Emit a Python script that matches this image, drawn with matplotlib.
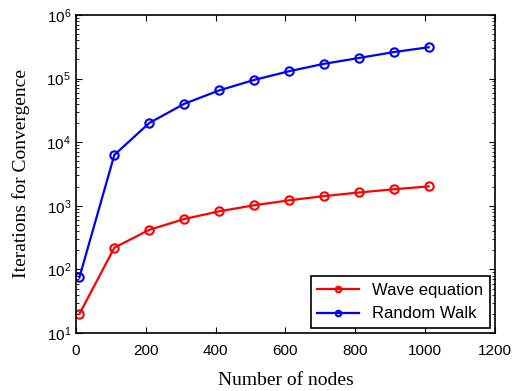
import numpy as np
import matplotlib
matplotlib.use('Agg')
import matplotlib.pyplot as plt

nodes = [10, 110, 210, 310, 410, 510, 610, 710, 810, 910, 1010]
wave = [20, 220, 420, 620, 820, 1020, 1220, 1420, 1620, 1820, 2020]
walk = [75, 6300, 20000, 40000, 65000, 95000, 130000, 170000, 210000, 260000, 310000]

plt.rcParams['font.family'] = ['Liberation Sans', 'DejaVu Sans']
fig = plt.figure(figsize=(5.2, 3.91), dpi=100)
ax = fig.add_axes([0.146, 0.148, 0.806, 0.814])

ax.plot(nodes, wave, color='red', marker='o', mfc='none', mec='red',
        ms=6, mew=1.5, lw=1.6, label='Wave equation')
ax.plot(nodes, walk, color='blue', marker='o', mfc='none', mec='blue',
        ms=6, mew=1.5, lw=1.6, label='Random Walk')

ax.set_yscale('log')
ax.set_xlim(0, 1200)
ax.set_ylim(10, 1e6)
ax.set_xticks(np.arange(0, 1201, 200))
ax.tick_params(which='both', direction='in', top=True, right=True, labelsize=11)
ax.tick_params(which='major', length=4)
ax.tick_params(which='minor', length=2)
ax.tick_params(axis='x', pad=8)
for s in ax.spines.values():
    s.set_linewidth(1.2)

ax.set_xlabel('Number of nodes', family='Liberation Serif', fontsize=14, labelpad=10)
ax.set_ylabel('Iterations for Convergence', family='Liberation Serif', fontsize=14, labelpad=12)

leg = ax.legend(loc='lower right', fontsize=12, fancybox=False, framealpha=1,
                edgecolor='black', borderaxespad=0.3, handlelength=2.5)
leg.get_frame().set_linewidth(1.2)
for h in leg.legend_handles:
    h.set_markersize(4)

fig.savefig('out.png', dpi=100)
